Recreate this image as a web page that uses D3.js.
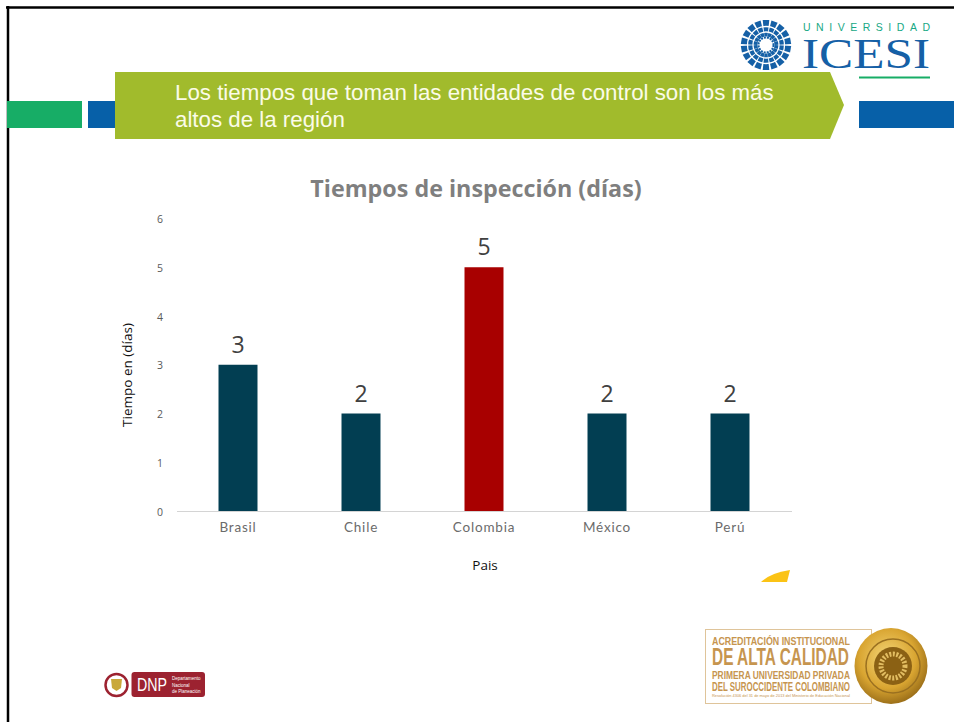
<!DOCTYPE html>
<html>
<head>
<meta charset="utf-8">
<script src="https://cdn.jsdelivr.net/npm/d3@7"></script>
<style>
  html, body { margin: 0; padding: 0; background: #fff; overflow: hidden; }
  svg { display: block; }
  .domain-line { stroke: #d4d4d4; }
</style>
</head>
<body>
<div id="chart"></div>
<script>
const paises = ["Brasil", "Chile", "Colombia", "México", "Perú"];
const dias = [3, 2, 5, 2, 2];
const colores = ["#023e52", "#023e52", "#a80000", "#023e52", "#023e52"];
const ticksY = [0, 1, 2, 3, 4, 5, 6];
const titulo = "Tiempos de inspección (días)";
const encabezado = ["Los tiempos que toman las entidades de control son los más", "altos de la región"];
const sello = ["ACREDITACIÓN INSTITUCIONAL", "DE ALTA CALIDAD", "PRIMERA UNIVERSIDAD PRIVADA", "DEL SUROCCIDENTE COLOMBIANO", "Resolución 4306 del 31 de mayo de 2013 del Ministerio de Educación Nacional"];

var width = 954,
  height = 722;

var svg = d3
  .select("#chart")
  .append("svg")
  .attr("width", width)
  .attr("height", height);

// marco de la diapositiva
svg.append("rect").attr("x", 0).attr("y", 0).attr("width", width).attr("height", height).attr("fill", "#fff");
svg.append("line").attr("x1", 6).attr("x2", width).attr("y1", 7.5).attr("y2", 7.5).attr("stroke", "#000").attr("stroke-width", 2.5);
svg.append("line").attr("x1", 8).attr("x2", 8).attr("y1", 6).attr("y2", height).attr("stroke", "#000").attr("stroke-width", 2.5);

// franjas y encabezado
svg.append("rect").attr("x", 7).attr("y", 101).attr("width", 75).attr("height", 27).attr("fill", "#17ad66");
svg.append("rect").attr("x", 88).attr("y", 101).attr("width", 30).attr("height", 27).attr("fill", "#0760a8");
svg.append("rect").attr("x", 859).attr("y", 101).attr("width", 95).attr("height", 27).attr("fill", "#0760a8");
svg.append("polygon").attr("points", "115,72 830,72 844,105 830,139 115,139").attr("fill", "#a1bb2c");
svg.selectAll(".enc")
  .data(encabezado)
  .join("text")
  .attr("class", "enc")
  .attr("x", 175)
  .attr("y", (d, i) => 100 + i * 27)
  .attr("font-family", "Liberation Sans, Arial, sans-serif")
  .attr("font-size", 22.3)
  .attr("fill", "#fbfbe8")
  .text((d) => d);

// logo ICESI
var logo = svg.append("g").attr("transform", "translate(766,45)");
logo.selectAll(".rayo")
  .data(d3.range(18))
  .join("path")
  .attr("class", "rayo")
  .attr("transform", (d) => "rotate(" + d * 20 + ")")
  .attr("d", "M-1.5,-8.5 L1.5,-8.5 L3.3,-25 L-3.3,-25 Z")
  .attr("fill", "#1560a6");
logo.selectAll(".anillo")
  .data([13, 18.5])
  .join("circle")
  .attr("class", "anillo")
  .attr("r", (d) => d)
  .attr("fill", "none")
  .attr("stroke", "#fff")
  .attr("stroke-width", 1.3);
logo.append("circle").attr("r", 7.5).attr("fill", "none").attr("stroke", "#1560a6").attr("stroke-width", 2).attr("stroke-dasharray", "2 1");
svg.append("text").attr("x", 803).attr("y", 31).attr("font-family", "Liberation Sans, Arial, sans-serif")
  .attr("font-size", 10.5).attr("textLength", 127).attr("lengthAdjust", "spacing").attr("fill", "#17a884").text("UNIVERSIDAD");
svg.append("text").attr("x", 802).attr("y", 68).attr("font-family", "Liberation Serif, serif")
  .attr("font-size", 43).attr("textLength", 128).attr("lengthAdjust", "spacingAndGlyphs").attr("fill", "#1560a6").text("ICESI");
svg.append("rect").attr("x", 859).attr("y", 76.5).attr("width", 71).attr("height", 2).attr("fill", "#17ad66");

// grafico
var y = d3.scaleLinear().domain([0, 6]).range([511, 218.5]);
var x = d3.scaleBand().domain(paises).range([176.5, 791.5]).paddingInner(0.683).paddingOuter(0.3415);

svg.append("text")
  .attr("x", 476)
  .attr("y", 197)
  .attr("text-anchor", "middle")
  .attr("font-family", "Open Sans, sans-serif")
  .attr("font-weight", 700)
  .attr("font-size", 23.3)
  .attr("fill", "#7f7f7f")
  .text(titulo);

var ejeY = d3.axisLeft(y).tickValues(ticksY).tickFormat(d3.format("d")).tickSize(0).tickPadding(0);
svg.append("g")
  .attr("transform", "translate(163,0.7)")
  .call(ejeY)
  .call((g) => g.select(".domain").remove())
  .call((g) => g.selectAll("text").attr("font-family", "Open Sans, sans-serif").attr("font-size", 10.5).attr("fill", "#595959"));

var ejeX = d3.axisBottom(x).tickSize(0).tickPadding(11);
svg.append("g")
  .attr("transform", "translate(0,511)")
  .call(ejeX)
  .call((g) => g.select(".domain").attr("class", "domain-line").attr("stroke-width", 1).attr("fill", "none"))
  .call((g) => g.selectAll("text").attr("font-family", "Lato, sans-serif").attr("font-size", 13.5).attr("letter-spacing", 0.8).attr("fill", "#6b6b6b"));

svg.selectAll(".barra")
  .data(paises)
  .join("rect")
  .attr("class", "barra")
  .attr("x", (d) => x(d))
  .attr("width", x.bandwidth())
  .attr("y", (d, i) => y(dias[i]))
  .attr("height", (d, i) => y(0) - y(dias[i]))
  .attr("fill", (d, i) => colores[i]);

svg.selectAll(".valor")
  .data(paises)
  .join("text")
  .attr("class", "valor")
  .attr("x", (d) => x(d) + x.bandwidth() / 2)
  .attr("y", (d, i) => y(dias[i]) - 12)
  .attr("text-anchor", "middle")
  .attr("font-family", "Open Sans, sans-serif")
  .attr("font-size", 23)
  .attr("fill", "#404040")
  .text((d, i) => dias[i]);

svg.append("text")
  .attr("transform", "translate(131.5,375) rotate(-90)")
  .attr("text-anchor", "middle")
  .attr("font-family", "Open Sans, sans-serif")
  .attr("font-size", 13.5)
  .attr("fill", "#111")
  .text("Tiempo en (días)");
svg.append("text")
  .attr("x", 485)
  .attr("y", 570)
  .attr("text-anchor", "middle")
  .attr("font-family", "Open Sans, sans-serif")
  .attr("font-size", 13.5)
  .attr("fill", "#111")
  .text("Pais");

// resto de la figura amarilla
svg.append("path").attr("d", "M761,582 Q770,573 790,570 L787,582 Z").attr("fill", "#fbc315");

// logo DNP
svg.append("circle").attr("cx", 116.5).attr("cy", 685).attr("r", 11).attr("fill", "#fff").attr("stroke", "#9c2230").attr("stroke-width", 2.5);
svg.append("path").attr("d", "M111,679 L122,679 L121,688 L116.5,691 L112,688 Z").attr("fill", "#c9a83a");
svg.append("rect").attr("x", 131.5).attr("y", 672).attr("width", 73.5).attr("height", 25).attr("rx", 3).attr("fill", "#9c2230");
svg.append("text").attr("x", 137).attr("y", 691).attr("font-family", "Liberation Sans, Arial, sans-serif")
  .attr("font-size", 18).attr("textLength", 30).attr("lengthAdjust", "spacingAndGlyphs").attr("fill", "#fff").text("DNP");
svg.selectAll(".dnp")
  .data(["Departamento", "Nacional", "de Planeación"])
  .join("text")
  .attr("class", "dnp")
  .attr("x", 172)
  .attr("y", (d, i) => 680 + i * 6.5)
  .attr("font-family", "Liberation Sans, Arial, sans-serif")
  .attr("font-size", 4.5)
  .attr("fill", "#fff")
  .text((d) => d);

// sello de acreditacion
svg.append("rect").attr("x", 705.5).attr("y", 629.5).attr("width", 166).attr("height", 74).attr("fill", "none").attr("stroke", "#dfc49a").attr("stroke-width", 1);
var filasSello = [
  { size: 11, y: 644.5, len: 138 },
  { size: 23, y: 665, len: 137 },
  { size: 11.5, y: 679, len: 138 },
  { size: 12, y: 691, len: 138 },
  { size: 4, y: 697, len: 138 },
];
svg.selectAll(".sello")
  .data(sello)
  .join("text")
  .attr("class", "sello")
  .attr("x", 712)
  .attr("y", (d, i) => filasSello[i].y)
  .attr("font-family", "Liberation Sans Narrow, Liberation Sans, sans-serif")
  .attr("font-weight", (d, i) => (i < 4 ? 700 : 400))
  .attr("font-size", (d, i) => filasSello[i].size)
  .attr("textLength", (d, i) => filasSello[i].len)
  .attr("lengthAdjust", "spacingAndGlyphs")
  .attr("fill", "#c6954f")
  .text((d) => d);

var grad = svg.append("defs").append("radialGradient").attr("id", "oro").attr("cx", "45%").attr("cy", "40%").attr("r", "65%");
grad.append("stop").attr("offset", "0%").attr("stop-color", "#f5d77a");
grad.append("stop").attr("offset", "60%").attr("stop-color", "#d9a531");
grad.append("stop").attr("offset", "100%").attr("stop-color", "#8f6414");
svg.append("ellipse").attr("cx", 891).attr("cy", 666).attr("rx", 36.5).attr("ry", 38).attr("fill", "url(#oro)");
svg.append("circle").attr("cx", 893).attr("cy", 666).attr("r", 27).attr("fill", "none").attr("stroke", "#9a7020").attr("stroke-width", 1.5);
svg.append("circle").attr("cx", 893).attr("cy", 666).attr("r", 19).attr("fill", "#8b6114");
svg.append("circle").attr("cx", 893).attr("cy", 666).attr("r", 12).attr("fill", "none").attr("stroke", "#e2bd62").attr("stroke-width", 5).attr("stroke-dasharray", "2 1.5");
</script>
</body>
</html>
